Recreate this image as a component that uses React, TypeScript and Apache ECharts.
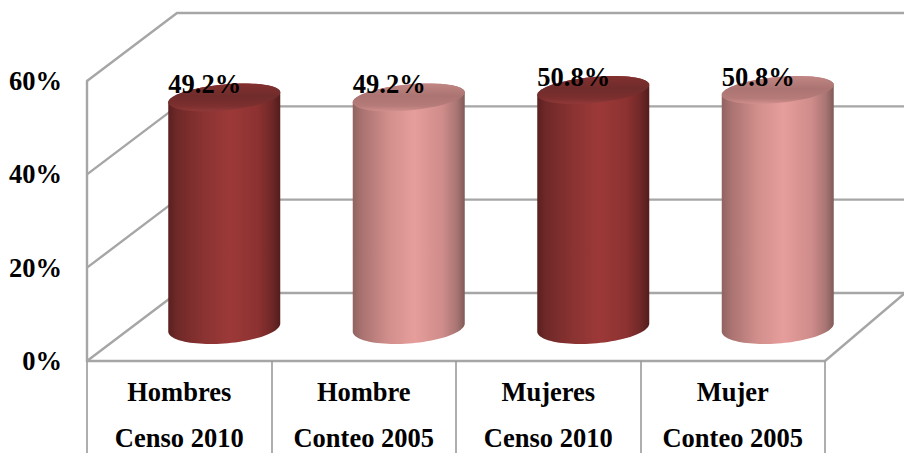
import React, { useEffect, useRef } from "react";
import * as echarts from "echarts";

const categories = ["Hombres\nCenso 2010", "Hombre\nConteo 2005", "Mujeres\nCenso 2010", "Mujer\nConteo 2005"];
const values = [49.2, 49.2, 50.8, 50.8];
const wallTicks = [0, 20, 40, 60];

const FONT = '"Liberation Serif", "Times New Roman", serif';
const GRID = { left: 87, top: 81, width: 738, height: 280 };
const DEPTH_X = 90;
const DEPTH_Y = 68;
const RIGHT_END = 905;
const GRAY = "#a6a6a6";

const dark = {
  body: [[0, "#5a201f"], [0.08, "#6f2928"], [0.32, "#8a3332"], [0.55, "#9c3938"], [0.8, "#8c3231"], [0.92, "#702827"], [1, "#531c1b"]],
  top: [[0, "#82302f"], [0.45, "#6f2c2b"], [0.8, "#7c2f2e"], [1, "#92393a"]],
};
const light = {
  body: [[0, "#8f6360"], [0.08, "#a97270"], [0.32, "#d18f8c"], [0.55, "#e69e9c"], [0.8, "#cf8c8a"], [0.93, "#a87573"], [1, "#805a58"]],
  top: [[0, "#c08683"], [0.45, "#ab7472"], [0.8, "#b57b78"], [1, "#d18f8c"]],
};
const palette = [dark, light, dark, light];

const stops = (list: any[]) => list.map(([offset, color]) => ({ offset, color }));

function ellipse(cx: number, cy: number, rx: number, ry: number, tilt: number, from: number, to: number) {
  const pts: number[][] = [];
  const n = 48;
  for (let i = 0; i <= n; i++) {
    const t = from + ((to - from) * i) / n;
    pts.push([cx + rx * Math.cos(t), cy + ry * Math.sin(t) - tilt * Math.cos(t)]);
  }
  return pts;
}

const labelText = { color: "#000", fontFamily: FONT, fontWeight: "bold" as const, fontSize: 26.5 };

export default function App() {
  const ref = useRef<HTMLDivElement>(null);
  useEffect(() => {
    document.body.style.margin = "0";
    const chart = echarts.init(ref.current!, undefined, { renderer: "svg" });
    chart.setOption({
      animation: false,
      backgroundColor: "#ffffff",
      grid: { ...GRID, outerBoundsMode: "none", containLabel: false },
      xAxis: {
        type: "category",
        data: categories,
        boundaryGap: true,
        axisLine: { show: true, lineStyle: { color: GRAY, width: 2.4 } },
        axisTick: { show: true, length: 95, alignWithLabel: false, lineStyle: { color: "#9a9a9a", width: 1.6 } },
        axisLabel: {
          margin: -2,
          interval: 0,
          verticalAlign: "top",
          formatter: (v: string) => {
            const [a, b] = v.split("\n");
            return `{a|${a}}\n{b|${b}}`;
          },
          rich: {
            a: { ...labelText, lineHeight: 66 },
            b: { ...labelText, lineHeight: 25 },
          },
        },
      },
      yAxis: {
        type: "value",
        min: 0,
        max: 60,
        interval: 20,
        axisLine: { show: true, lineStyle: { color: GRAY, width: 2.4 } },
        axisTick: { show: false },
        splitLine: { show: false },
        axisLabel: { margin: 25, formatter: "{value}%", ...labelText },
      },
      series: [
        {
          type: "custom",
          z: 1,
          silent: true,
          data: wallTicks.map((v) => [0, v]),
          renderItem: (params: any, api: any) => {
            const v = api.value(1);
            const g = params.coordSys;
            const y = api.coord([0, v])[1];
            const yb = y - DEPTH_Y;
            const children: any[] = [
              {
                type: "polyline",
                shape: { points: [[g.x, y], [g.x + DEPTH_X, yb], [RIGHT_END, yb]] },
                style: { stroke: GRAY, lineWidth: 2.4, fill: "none" },
              },
            ];
            if (v === 0) {
              children.push({
                type: "line",
                shape: { x1: g.x + g.width, y1: y, x2: RIGHT_END, y2: yb },
                style: { stroke: GRAY, lineWidth: 2.4 },
              });
            }
            return { type: "group", children };
          },
        },
        {
          type: "custom",
          z: 3,
          silent: true,
          data: values.map((v, i) => [i, v]),
          renderItem: (params: any, api: any) => {
            const i = api.value(0);
            const v = api.value(1);
            const top = api.coord([i, v]);
            const base = api.coord([i, 0]);
            const rx = 56;
            const cx = top[0] + DEPTH_X / 2;
            const topY = top[1] - DEPTH_Y / 2;
            const baseY = base[1] - DEPTH_Y / 2 + 0.5;
            const p = palette[i];
            const bodyPts = [
              ...ellipse(cx, topY, rx, 13, 5, Math.PI, 2 * Math.PI),
              ...ellipse(cx, baseY, rx, 16, 4, 0, Math.PI),
            ];
            return {
              type: "group",
              children: [
                {
                  type: "polygon",
                  shape: { points: bodyPts },
                  style: { fill: new echarts.graphic.LinearGradient(0, 0, 1, 0, stops(p.body)) },
                },
                {
                  type: "polygon",
                  shape: { points: ellipse(cx, topY, rx, 13, 5, 0, 2 * Math.PI) },
                  style: { fill: new echarts.graphic.LinearGradient(0, 0, 0, 1, stops(p.top)) },
                },
                {
                  type: "text",
                  style: {
                    text: v.toFixed(1) + "%",
                    x: top[0] + 25.5,
                    y: topY - 13,
                    align: "center",
                    verticalAlign: "middle",
                    fill: "#000",
                    font: `bold 26.5px ${FONT}`,
                  },
                },
              ],
            };
          },
        },
      ],
    });
    return () => chart.dispose();
  }, []);
  return <div ref={ref} style={{ position: "absolute", left: 0, top: 0, width: 904, height: 453 }} />;
}
